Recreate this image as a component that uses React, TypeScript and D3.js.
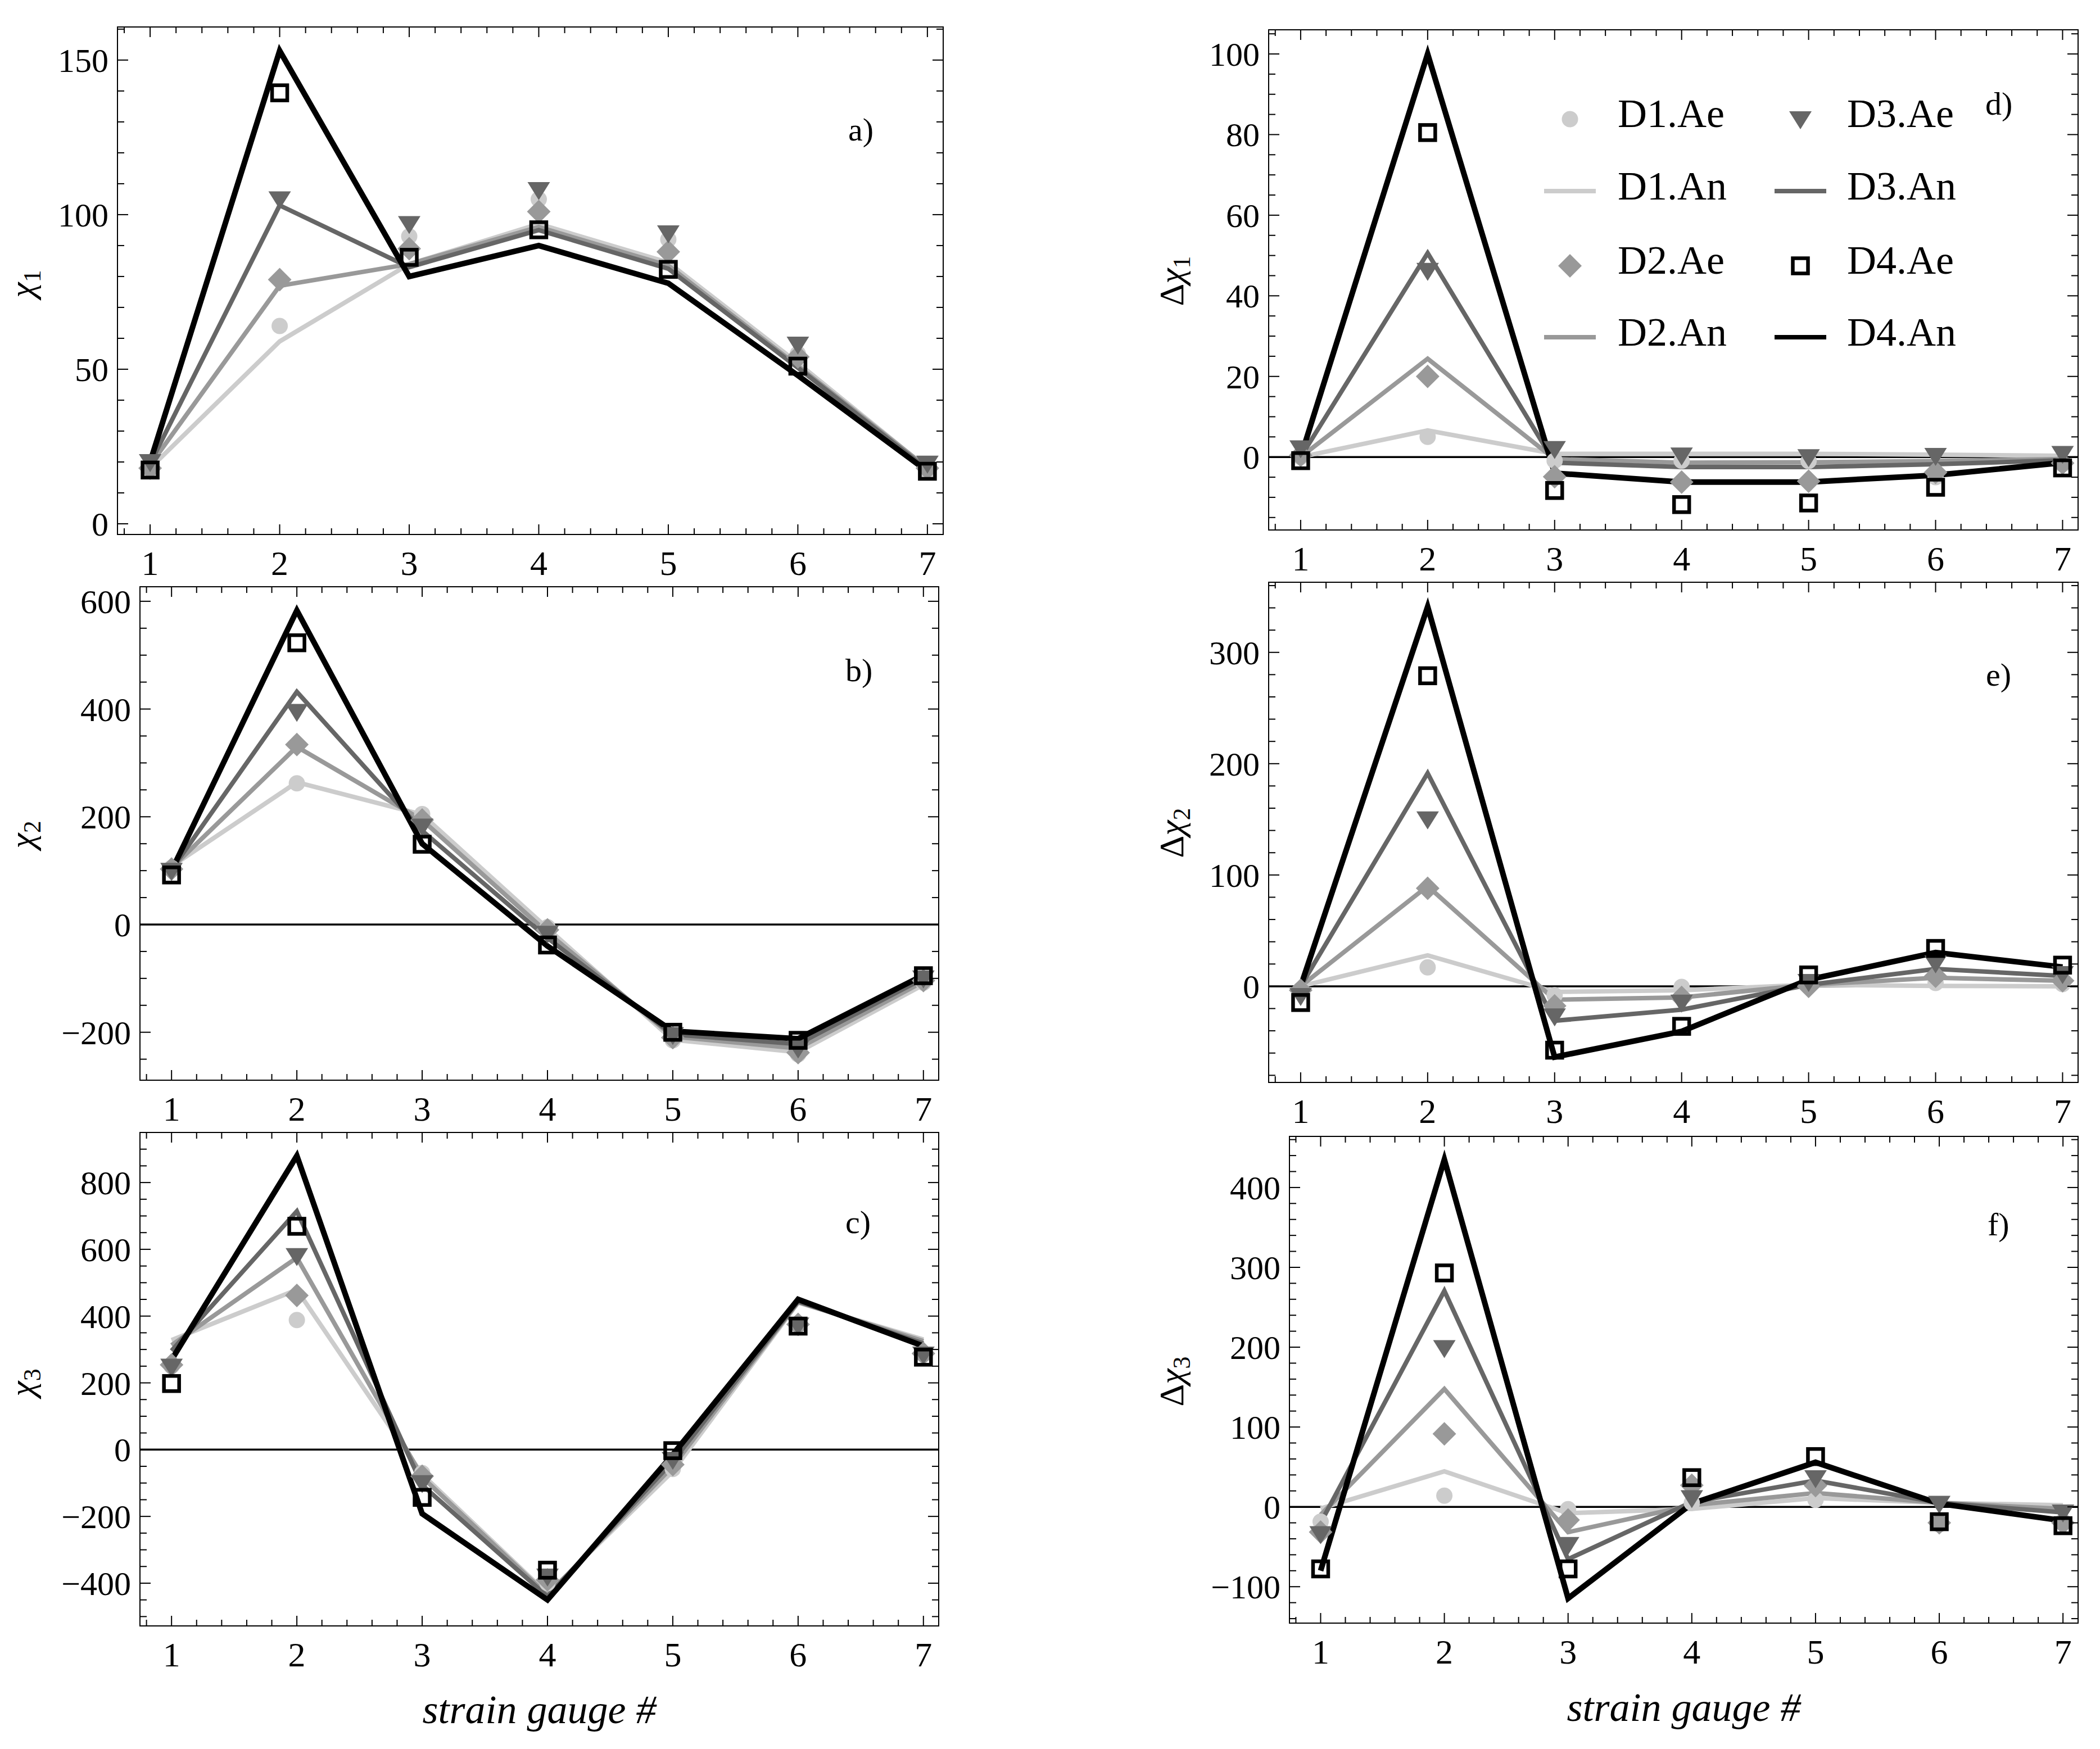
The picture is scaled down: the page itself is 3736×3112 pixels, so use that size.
import React from 'react';
import * as d3 from 'd3';

// strain gauge positions (x categories)
const gauges = [1, 2, 3, 4, 5, 6, 7];
const seriesNames = ['D1', 'D2', 'D3', 'D4'];

// chi_1 : experimental (Ae) and analytical (An), rows D1..D4
const chi1Ae = [
  [17, 64, 93, 105, 92, 55, 17],
  [18, 79, 89, 101, 88, 54, 18],
  [20, 105, 97, 108, 94, 58, 19.5],
  [17.4, 139.4, 86.2, 95.1, 82.3, 51, 17],
];
const chi1An = [
  [18, 59, 84, 97, 84.5, 52, 18],
  [19, 77, 84, 96, 83.5, 51, 18],
  [19.5, 103, 83, 95, 82.5, 50.5, 17.5],
  [20, 153, 80, 90, 77.8, 48, 17],
];

// chi_2
const chi2Ae = [
  [105, 262, 205, -5, -215, -241, -108],
  [103, 334, 194, -10, -210, -238, -104],
  [100, 395, 182, -17, -205, -230, -100],
  [92, 523, 149, -38, -200, -215, -95],
];
const chi2An = [
  [108, 264, 204, -7, -214, -237, -112],
  [105, 330, 194, -15, -208, -230, -106],
  [102, 432, 174, -25, -204, -222, -100],
  [100, 583, 150, -40, -198, -212, -94],
];

// chi_3
const chi3Ae = [
  [250, 388, -70, -400, -58, 378, 285],
  [254, 462, -80, -390, -45, 375, 288],
  [249, 580, -100, -380, -30, 372, 285],
  [198, 669, -143, -361, -3, 370, 277],
];
const chi3An = [
  [328, 479, -74, -432, -65, 440, 330],
  [313, 575, -82, -436, -50, 442, 325],
  [296, 714, -106, -440, -35, 444, 318],
  [269, 880, -192, -450, -15, 450, 310],
];

// delta chi_1
const dChi1Ae = [
  [0, 5, -0.9, -0.9, -1, -5, -1.8],
  [0.4, 20, -4.9, -6.2, -6, -3.8, -1.5],
  [2.2, 46.2, 2, 0.4, 0, 0.3, 0.8],
  [-0.9, 80.5, -8.3, -11.8, -11.4, -7.5, -2.7],
];
const dChi1An = [
  [0, 6.6, 0.8, 0.8, 0.8, 0.6, 0.3],
  [0, 24.4, -0.5, -1.4, -1.3, -1, -0.5],
  [0, 50.6, -1.4, -2.5, -2.5, -1.8, -0.8],
  [0, 100, -4, -6.2, -6.2, -4.5, -1.4],
];

// delta chi_2
const dChi2Ae = [
  [-3, 17, -8, -0.5, 0, 3, 2],
  [-3.6, 88, -17.6, -10, 0, 9, 5],
  [-8.6, 150, -27, -14.6, 4, 20.6, 11],
  [-14.6, 279, -57.4, -36, 10.2, 34, 19],
];
const dChi2An = [
  [0, 27.8, -5, -3.6, 1.3, 0.3, 0],
  [0, 90, -12, -10, 1.3, 7.6, 5],
  [0, 191.5, -31, -21, 1.3, 15.6, 9.3],
  [0, 341, -63.6, -40.5, 6, 30.3, 17.3],
];

// delta chi_3
const dChi3Ae = [
  [-18.5, 14, -2.8, 5, 8.7, -22, -18],
  [-31.6, 91.5, -16.4, 27, 26.7, -20, -20],
  [-34, 199, -47.6, 11, 36, 4, -7],
  [-77.7, 293, -77.7, 36.6, 63, -18.6, -23.6],
];
const dChi3An = [
  [-2, 44.5, -8, -2.5, 11, 5, 2],
  [-10, 147.6, -31.7, 2, 17.4, 5, -2.5],
  [-20, 270.6, -65.5, 6, 33, 5, -7],
  [-80, 435, -114.6, 4, 55.8, 4, -17.3],
];

// y tick labels per panel
const chi1Ticks = [0, 50, 100, 150];
const chi2Ticks = [-200, 0, 200, 400, 600];
const chi3Ticks = [-400, -200, 0, 200, 400, 600, 800];
const dChi1Ticks = [0, 20, 40, 60, 80, 100];
const dChi2Ticks = [0, 100, 200, 300];
const dChi3Ticks = [-100, 0, 100, 200, 300, 400];

const grays = ['#cccccc', '#999999', '#666666', '#000000'];
const lineWidths = [8, 8, 8, 10];
const FONT = "'Liberation Serif', 'DejaVu Serif', serif";

interface Box { left: number; right: number; top: number; bottom: number; }
interface PanelSpec {
  ae: number[][];
  an: number[][];
  ticks: number[];
  minor: number;
  domain: [number, number];
  box: Box;
  zero: boolean;
  tag: string;
  tagAt: [number, number];
  delta: boolean;
  sub: string;
  labelAt: [number, number];
}

const panels: PanelSpec[] = [
  { ae: chi1Ae, an: chi1An, ticks: chi1Ticks, minor: 10, domain: [-3.45, 160.7],
    box: { left: 209, right: 1678, top: 48, bottom: 951 }, zero: false,
    tag: 'a)', tagAt: [1509, 250], delta: false, sub: '1', labelAt: [60, 505] },
  { ae: chi2Ae, an: chi2An, ticks: chi2Ticks, minor: 50, domain: [-289, 627],
    box: { left: 249, right: 1670, top: 1044, bottom: 1922 }, zero: true,
    tag: 'b)', tagAt: [1504, 1212], delta: false, sub: '2', labelAt: [60, 1485] },
  { ae: chi3Ae, an: chi3An, ticks: chi3Ticks, minor: 50, domain: [-528, 950],
    box: { left: 249, right: 1670, top: 2015, bottom: 2893 }, zero: true,
    tag: 'c)', tagAt: [1504, 2194], delta: false, sub: '3', labelAt: [60, 2460] },
  { ae: dChi1Ae, an: dChi1An, ticks: dChi1Ticks, minor: 5, domain: [-18.1, 106],
    box: { left: 2257, right: 3697, top: 53, bottom: 943 }, zero: true,
    tag: 'd)', tagAt: [3532, 204], delta: true, sub: '1', labelAt: [2105, 500] },
  { ae: dChi2Ae, an: dChi2An, ticks: dChi2Ticks, minor: 20, domain: [-86.4, 363],
    box: { left: 2257, right: 3697, top: 1036, bottom: 1926 }, zero: true,
    tag: 'e)', tagAt: [3533, 1220], delta: true, sub: '2', labelAt: [2105, 1482] },
  { ae: dChi3Ae, an: dChi3An, ticks: dChi3Ticks, minor: 20, domain: [-145.6, 464],
    box: { left: 2294, right: 3697, top: 2022, bottom: 2888 }, zero: true,
    tag: 'f)', tagAt: [3536, 2198], delta: true, sub: '3', labelAt: [2105, 2458] },
];

const fmt = (v: number) => (v < 0 ? `\u2212${-v}` : `${v}`);

const Marker: React.FC<{ kind: number; x: number; y: number }> = ({ kind, x, y }) => {
  const c = grays[kind];
  if (kind === 0) return <circle cx={x} cy={y} r={14.5} fill={c} />;
  if (kind === 1)
    return <path d={`M${x},${y - 21}L${x + 21},${y}L${x},${y + 21}L${x - 21},${y}Z`} fill={c} />;
  if (kind === 2)
    return <path d={`M${x - 20},${y - 14}L${x + 20},${y - 14}L${x},${y + 18}Z`} fill={c} />;
  return <rect x={x - 13.5} y={y - 13.5} width={27} height={27} fill="none" stroke="#000" strokeWidth={6.5} />;
};

const Panel: React.FC<{ p: PanelSpec }> = ({ p }) => {
  const { box } = p;
  const x = d3.scaleLinear().domain([0.748, 7.122]).range([box.left, box.right]);
  const y = d3.scaleLinear().domain(p.domain).range([box.bottom, box.top]);
  const line = d3.line<number>().x((_, i) => x(gauges[i])).y(d => y(d));

  const xMinor = d3.range(4, 36).map(k => k * 0.2).filter(v => Math.abs(v - Math.round(v)) > 1e-6);
  const yMinor = d3
    .range(Math.ceil(p.domain[0] / p.minor), Math.floor(p.domain[1] / p.minor) + 1)
    .map(k => k * p.minor)
    .filter(v => !p.ticks.includes(v));

  return (
    <g>
      {/* zero line */}
      {p.zero && (
        <line x1={box.left} x2={box.right} y1={y(0)} y2={y(0)} stroke="#000" strokeWidth={3.5} />
      )}

      {/* analytical lines */}
      {p.an.map((vals, i) => (
        <path key={`an-${i}`} d={line(vals) || ''} fill="none" stroke={grays[i]}
          strokeWidth={lineWidths[i]} strokeLinejoin="miter" strokeMiterlimit={10} />
      ))}

      {/* experimental markers */}
      {p.ae.map((vals, i) => (
        <g key={`ae-${i}`}>
          {vals.map((v, j) => <Marker key={j} kind={i} x={x(gauges[j])} y={y(v)} />)}
        </g>
      ))}

      {/* frame */}
      <rect x={box.left} y={box.top} width={box.right - box.left} height={box.bottom - box.top}
        fill="none" stroke="#000" strokeWidth={2} />

      {/* x ticks, top and bottom */}
      {gauges.map(g => (
        <g key={`xt-${g}`}>
          <line x1={x(g)} x2={x(g)} y1={box.bottom} y2={box.bottom - 18} stroke="#000" strokeWidth={2} />
          <line x1={x(g)} x2={x(g)} y1={box.top} y2={box.top + 18} stroke="#000" strokeWidth={2} />
          <text x={x(g)} y={box.bottom + 72} textAnchor="middle" fontSize={62} fontFamily={FONT}>{g}</text>
        </g>
      ))}
      {xMinor.map(v => (
        <g key={`xm-${v}`}>
          <line x1={x(v)} x2={x(v)} y1={box.bottom} y2={box.bottom - 11} stroke="#000" strokeWidth={2} />
          <line x1={x(v)} x2={x(v)} y1={box.top} y2={box.top + 11} stroke="#000" strokeWidth={2} />
        </g>
      ))}

      {/* y ticks, left and right */}
      {p.ticks.map(t => (
        <g key={`yt-${t}`}>
          <line x1={box.left} x2={box.left + 19} y1={y(t)} y2={y(t)} stroke="#000" strokeWidth={2} />
          <line x1={box.right} x2={box.right - 19} y1={y(t)} y2={y(t)} stroke="#000" strokeWidth={2} />
          <text x={box.left - 16} y={y(t)} dy="0.35em" textAnchor="end" fontSize={60} fontFamily={FONT}>
            {fmt(t)}
          </text>
        </g>
      ))}
      {yMinor.map(v => (
        <g key={`ym-${v}`}>
          <line x1={box.left} x2={box.left + 12} y1={y(v)} y2={y(v)} stroke="#000" strokeWidth={2} />
          <line x1={box.right} x2={box.right - 12} y1={y(v)} y2={y(v)} stroke="#000" strokeWidth={2} />
        </g>
      ))}

      {/* panel tag */}
      <text x={p.tagAt[0]} y={p.tagAt[1]} fontSize={58} fontFamily={FONT}>{p.tag}</text>

      {/* y axis label */}
      <text transform={`translate(${p.labelAt[0]},${p.labelAt[1]}) rotate(-90)`} textAnchor="middle"
        fontSize={62} fontFamily={FONT}>
        {p.delta ? 'Δ' : ''}
        <tspan fontStyle="italic">χ</tspan>
        <tspan fontSize={44} dy={12}>{p.sub}</tspan>
      </text>
    </g>
  );
};

const Legend: React.FC = () => {
  const cols = [
    { marker: 2793, text: 2878 },
    { marker: 3203, text: 3286 },
  ];
  const rows = [212, 340, 473, 600];
  return (
    <g>
      {seriesNames.map((name, i) => {
        const col = cols[Math.floor(i / 2)];
        const r0 = rows[(i % 2) * 2];
        const r1 = rows[(i % 2) * 2 + 1];
        return (
          <g key={name}>
            <Marker kind={i} x={col.marker} y={r0} />
            <text x={col.text} y={r0 + 14} fontSize={72} fontFamily={FONT}>{`${name}.Ae`}</text>
            <line x1={col.marker - 46} x2={col.marker + 46} y1={r1} y2={r1} stroke={grays[i]} strokeWidth={8} />
            <text x={col.text} y={r1 + 15} fontSize={72} fontFamily={FONT}>{`${name}.An`}</text>
          </g>
        );
      })}
    </g>
  );
};

export default function App() {
  return (
    <div style={{ position: 'absolute', left: 0, top: 0 }}>
      <svg width={3736} height={3112} style={{ display: 'block', background: '#fff' }}>
        {panels.map((p, i) => <Panel key={i} p={p} />)}
        <Legend />
        <text x={(249 + 1670) / 2} y={3066} textAnchor="middle" fontSize={72} fontStyle="italic" fontFamily={FONT}>
          strain gauge #
        </text>
        <text x={(2294 + 3697) / 2} y={3062} textAnchor="middle" fontSize={72} fontStyle="italic" fontFamily={FONT}>
          strain gauge #
        </text>
      </svg>
    </div>
  );
}
